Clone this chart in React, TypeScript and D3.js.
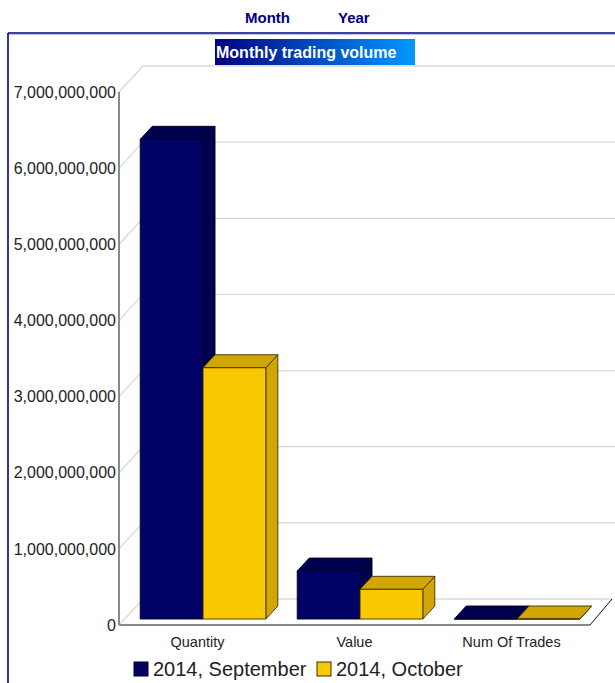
import React from "react";
import * as d3 from "d3";

const categories = ["Quantity", "Value", "Num Of Trades"];
const seriesNames = ["2014, September", "2014, October"];
const september = [6300000000, 630000000, 600000];
const october = [3300000000, 390000000, 400000];
const yTicks = [0, 1e9, 2e9, 3e9, 4e9, 5e9, 6e9, 7e9];

const WIDTH = 615;
const HEIGHT = 683;
const FONT = "'Liberation Sans', Arial, Helvetica, sans-serif";

// depth of the 3d wall, and where the bars sit inside it
const DEPTH = { dx: 24, dy: -26 };
const BAR_Z0 = 0.23;
const BAR_Z1 = 0.73;

const colors = [
    { front: "#020266", side: "#00004e", stroke: "#000022" },
    { front: "#f8c800", side: "#d2a600", stroke: "#3d3000" },
];

export default function App() {
    const plot = { left: 119, right: 590, top: 92, bottom: 625 };

    const y = d3.scaleLinear([0, 7e9], [plot.bottom, plot.top]);
    const x = d3.scaleBand(categories, [plot.left, plot.right])
        .paddingInner(0.2)
        .paddingOuter(0.1);
    const xSeries = d3.scaleBand(seriesNames, [0, x.bandwidth()]);
    const fmt = d3.format(",");

    const values = [september, october];

    const f0x = DEPTH.dx * BAR_Z0, f0y = DEPTH.dy * BAR_Z0;
    const f1x = DEPTH.dx * BAR_Z1, f1y = DEPTH.dy * BAR_Z1;
    const pts = (p: number[][]) => p.map(d => d.join(",")).join(" ");

    return (
        <svg width={WIDTH} height={HEIGHT} style={{ position: "absolute", left: 0, top: 0 }} fontFamily={FONT}>
            <defs>
                <linearGradient id="titleGrad" x1="0" x2="1" y1="0" y2="0">
                    <stop offset="0" stopColor="#000080" />
                    <stop offset="1" stopColor="#0099ff" />
                </linearGradient>
            </defs>
            <rect width={WIDTH} height={HEIGHT} fill="#fff" />

            {/* header links */}
            <text x={245} y={23} fontSize={15} fontWeight="bold" fill="#000080">Month</text>
            <text x={338} y={23} fontSize={15} fontWeight="bold" fill="#000080">Year</text>

            {/* frame */}
            <line x1={8} x2={WIDTH} y1={33} y2={33} stroke="#000080" strokeWidth={1.6} />
            <line x1={9} x2={WIDTH} y1={34.6} y2={34.6} stroke="#b8bfe0" strokeWidth={1} />
            <line x1={8} x2={8} y1={33} y2={HEIGHT} stroke="#000080" strokeWidth={1.6} />

            {/* title */}
            <rect x={215} y={39} width={200} height={26} fill="url(#titleGrad)" />
            <text x={216} y={58} fontSize={16} fontWeight="bold" fill="#fff">Monthly trading volume</text>

            {/* back wall grid */}
            <g stroke="#d8d8d8" strokeWidth={1.3} fill="none">
                {yTicks.map(t => (
                    <g key={t}>
                        <line x1={plot.left} y1={y(t)} x2={plot.left + DEPTH.dx} y2={y(t) + DEPTH.dy} />
                        {t > 0 && <line x1={plot.left + DEPTH.dx} y1={y(t) + DEPTH.dy} x2={WIDTH} y2={y(t) + DEPTH.dy} />}
                    </g>
                ))}
                <line x1={plot.left + DEPTH.dx} y1={y(0) + DEPTH.dy}
                    x2={plot.right + DEPTH.dx - 2} y2={y(0) + DEPTH.dy} />
            </g>

            {/* floor front edge */}
            <line x1={plot.left} x2={plot.right} y1={y(0)} y2={y(0)} stroke="#888" strokeWidth={2} />
            <line x1={plot.right} y1={y(0)} x2={plot.right + DEPTH.dx - 2} y2={y(0) + DEPTH.dy}
                stroke="#111" strokeWidth={1} />

            {/* y axis */}
            <line x1={plot.left} x2={plot.left} y1={plot.top} y2={plot.bottom} stroke="#8a8a8a" strokeWidth={2} />
            {yTicks.map(t => (
                <text key={t} x={plot.left - 3} y={y(t)} dy="0.36em" textAnchor="end" fontSize={16} fill="#222">
                    {fmt(t)}
                </text>
            ))}

            {/* bars */}
            {categories.map((c, i) => (
                <g key={c}>
                    {seriesNames.map((s, j) => {
                        const v = values[j][i];
                        const x0 = x(c)! + xSeries(s)! + f0x;
                        const x1 = x0 + xSeries.bandwidth();
                        const yb = y(0) + f0y;
                        const yt = y(v) + f0y;
                        const bx = f1x - f0x, by = f1y - f0y;
                        const col = colors[j];
                        return (
                            <g key={s} stroke={col.stroke} strokeWidth={0.9} strokeLinejoin="round">
                                <polygon fill={col.side}
                                    points={pts([[x1, yb], [x1 + bx, yb + by], [x1 + bx, yt + by], [x1, yt]])} />
                                <polygon fill={col.side}
                                    points={pts([[x0, yt], [x1, yt], [x1 + bx, yt + by], [x0 + bx, yt + by]])} />
                                <rect x={x0} y={yt} width={x1 - x0} height={Math.max(0, yb - yt)} fill={col.front} />
                            </g>
                        );
                    })}
                </g>
            ))}

            {/* category labels */}
            {categories.map(c => (
                <text key={c} x={x(c)! + x.bandwidth() / 2} y={647} textAnchor="middle" fontSize={14.5} fill="#222">
                    {c}
                </text>
            ))}

            {/* legend */}
            {seriesNames.map((s, j) => {
                const lx = [134, 317][j];
                return (
                    <g key={s}>
                        <rect x={lx} y={662} width={14} height={14} fill={colors[j].front}
                            stroke={colors[j].stroke} strokeWidth={1} />
                        <text x={lx + 19} y={676} fontSize={20} fill="#222">{s}</text>
                    </g>
                );
            })}
        </svg>
    );
}
